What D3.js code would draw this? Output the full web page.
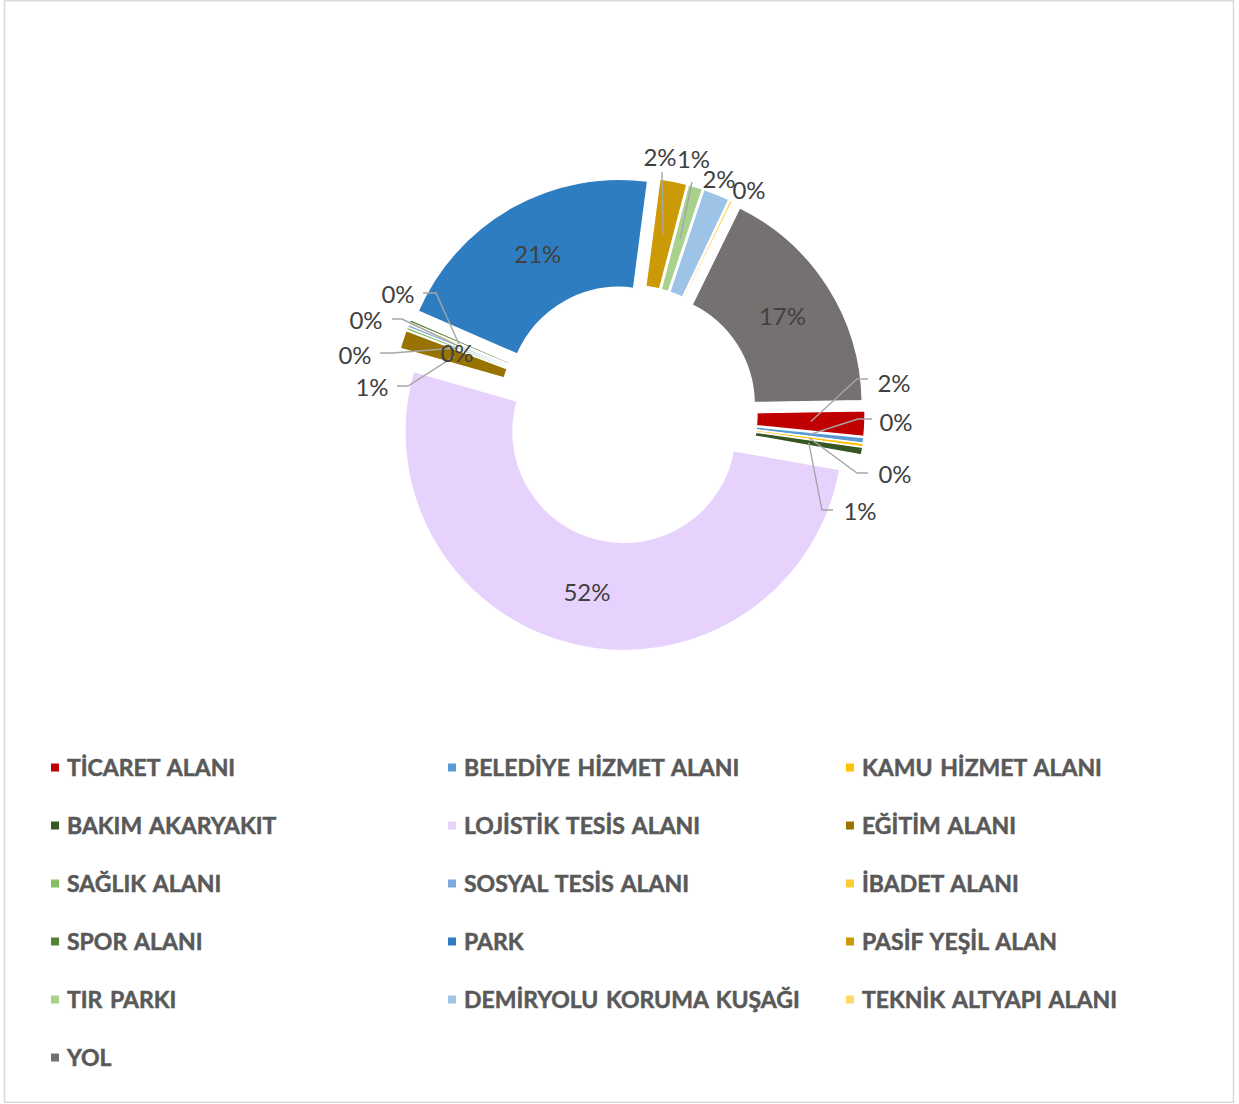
<!DOCTYPE html>
<html>
<head>
<meta charset="utf-8">
<script src="https://cdn.jsdelivr.net/npm/d3@7"></script>
<style>
  html, body { margin: 0; padding: 0; background: #ffffff; }
  svg { display: block; }
</style>
</head>
<body>
<svg id="chart" width="1239" height="1104"></svg>
<script>
// Land-use categories (legend order = slice order, clockwise)
const categories = [
  "TİCARET ALANI", "BELEDİYE HİZMET ALANI", "KAMU HİZMET ALANI",
  "BAKIM AKARYAKIT", "LOJİSTİK TESİS ALANI", "EĞİTİM ALANI",
  "SAĞLIK ALANI", "SOSYAL TESİS ALANI", "İBADET ALANI",
  "SPOR ALANI", "PARK", "PASİF YEŞİL ALAN",
  "TIR PARKI", "DEMİRYOLU KORUMA KUŞAĞI", "TEKNİK ALTYAPI ALANI",
  "YOL"
];

// Share of total area, percent
const shares = [
  1.85, 0.40, 0.25,
  0.55, 51.65, 1.35,
  0.20, 0.20, 0.15,
  0.20, 20.55, 2.00,
  1.05, 1.95, 0.20,
  17.45
];

const colors = [
  "#C00000", "#5B9BD5", "#FFC000",
  "#385723", "#E7D2FE", "#997300",
  "#86BE64", "#7CACDF", "#FFCD33",
  "#548235", "#2F7DC1", "#CC9A06",
  "#A9D18E", "#9DC3E6", "#FFD966",
  "#767171"
];

// Geometry and styling
const W = 1239, H = 1104;
const cx = 628, cy = 414;
const rOuter = 219, rInner = 111, explode = 18;
const firstSliceDeg = 89;

// Outside data-label placement for the thin slices, relative to the ring centre:
// t = label centre, e = leader elbow, s = end of the short horizontal stub.
const labelLayout = {
  "TİCARET ALANI":            { t: [266, -31],  e: [229, -35],  s: [240, -35] },
  "BELEDİYE HİZMET ALANI":    { t: [268, 8],    e: [230, 5],    s: [244, 5] },
  "KAMU HİZMET ALANI":        { t: [267, 60.5], e: [229, 59],   s: [240, 59] },
  "BAKIM AKARYAKIT":          { t: [232, 97],   e: [194, 96],   s: [205, 96] },
  "EĞİTİM ALANI":             { t: [-256, -27], e: [-220, -28], s: [-231, -28] },
  "SAĞLIK ALANI":             { t: [-273, -59], e: [-236, -61], s: [-248, -61] },
  "SOSYAL TESİS ALANI":       { t: [-262, -94], e: [-226, -95], s: [-236, -95] },
  "İBADET ALANI":             { t: [-230, -120],e: [-192, -121],s: [-205, -121] },
  "SPOR ALANI":               { t: [-171, -61] },
  "PASİF YEŞİL ALAN":         { t: [32, -256.5], e: [34, -242], s: [34, -242] },
  "TIR PARKI":                { t: [65.5, -255],   e: [64, -232], s: [64, -232] },
  "DEMİRYOLU KORUMA KUŞAĞI":  { t: [91, -235] },
  "TEKNİK ALTYAPI ALANI":     { t: [121, -224] }
};

const data = categories.map((c, i) => ({ name: c, value: shares[i], color: colors[i] }));
const total = d3.sum(data, d => d.value);

const svg = d3.select("#chart");
svg.append("rect").attr("width", W).attr("height", H).attr("fill", "#ffffff");
svg.append("rect")
  .attr("x", 4.5).attr("y", 0.75).attr("width", 1229).attr("height", 1101.5)
  .attr("fill", "none").attr("stroke", "#D9D9D9").attr("stroke-width", 1.5);

const toRad = d => d * Math.PI / 180;
const pie = d3.pie()
  .sort(null)
  .value(d => d.value)
  .startAngle(toRad(firstSliceDeg))
  .endAngle(toRad(firstSliceDeg) + 2 * Math.PI);
const arc = d3.arc().innerRadius(rInner).outerRadius(rOuter);

const arcs = pie(data);
arcs.forEach(a => {
  const mid = (a.startAngle + a.endAngle) / 2;
  a.ox = explode * Math.sin(mid);
  a.oy = -explode * Math.cos(mid);
  const c = arc.centroid(a);
  a.cx = c[0] + a.ox;
  a.cy = c[1] + a.oy;
});

const ring = svg.append("g").attr("transform", `translate(${cx},${cy})`);

// Exploded slices with a thin white outline
ring.selectAll("path.slice")
  .data(arcs)
  .join("path")
  .attr("class", "slice")
  .attr("transform", a => `translate(${a.ox},${a.oy})`)
  .attr("d", arc)
  .attr("fill", a => a.data.color)
  .attr("stroke", "#ffffff")
  .attr("stroke-width", 1.3)
  .attr("stroke-linejoin", "miter");

// Leader lines
const leaders = arcs.filter(a => labelLayout[a.data.name] && labelLayout[a.data.name].e);
ring.selectAll("polyline.leader")
  .data(leaders)
  .join("polyline")
  .attr("class", "leader")
  .attr("points", a => {
    const L = labelLayout[a.data.name];
    return [[a.cx, a.cy], L.e, L.s].map(p => p.join(",")).join(" ");
  })
  .attr("fill", "none")
  .attr("stroke", "#A6A6A6")
  .attr("stroke-width", 1.4);

// Data labels
const pct = a => Math.round(a.data.value / total * 100) + "%";
ring.selectAll("text.dl")
  .data(arcs)
  .join("text")
  .attr("class", "dl")
  .attr("x", a => labelLayout[a.data.name] ? labelLayout[a.data.name].t[0] : a.cx)
  .attr("y", a => (labelLayout[a.data.name] ? labelLayout[a.data.name].t[1] : a.cy) + 8.6)
  .attr("text-anchor", "middle")
  .attr("font-family", "Lato, 'Open Sans', sans-serif")
  .attr("font-size", 24)
  .attr("fill", "#404040")
  .text(pct);

// Legend: three columns, row-major
const legendCols = [51, 448, 846];
const legendTop = 767.5, legendStep = 58;
const legend = svg.append("g");
const items = legend.selectAll("g.item")
  .data(data)
  .join("g")
  .attr("class", "item")
  .attr("transform", (d, i) => `translate(${legendCols[i % 3]},${legendTop + Math.floor(i / 3) * legendStep})`);
items.append("rect")
  .attr("x", 0).attr("y", -4).attr("width", 8).attr("height", 8)
  .attr("fill", d => d.color);
items.append("text")
  .attr("x", 16).attr("y", 8.3)
  .attr("font-family", "Lato, 'Open Sans', sans-serif")
  .attr("font-weight", 700)
  .attr("font-size", 23)
  .attr("fill", "#595959")
  .attr("stroke", "#595959")
  .attr("stroke-width", 0.5)
  .attr("word-spacing", 2)
  .text(d => d.name);
</script>
</body>
</html>
